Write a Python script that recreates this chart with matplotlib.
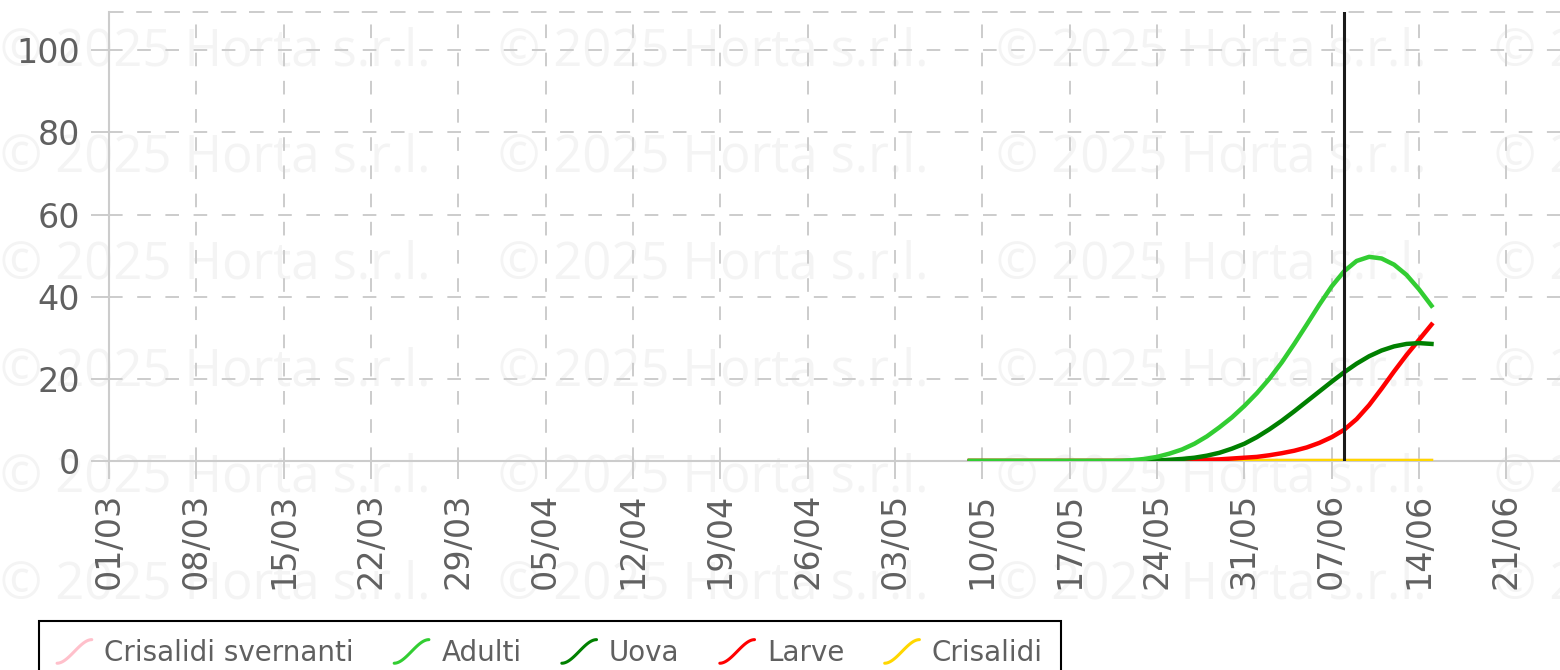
import numpy as np
import pandas as pd
import matplotlib
matplotlib.use("Agg")
import matplotlib.pyplot as plt
import matplotlib.dates as mdates
from matplotlib.legend_handler import HandlerBase
from matplotlib.lines import Line2D

# daily model output, 09/05 .. 15/06 (38 days)
days = pd.date_range("2025-05-09", "2025-06-15", freq="D")

crisalidi_svernanti = [0.0, 0.0, 0.0, 0.0, 0.0, 0.0, 0.0, 0.0, 0.0, 0.0,
                       0.0, 0.0, 0.0, 0.0, 0.0, 0.0, 0.0, 0.0, 0.0, 0.0,
                       0.0, 0.0, 0.0, 0.0, 0.0, 0.0, 0.0, 0.0, 0.0, 0.0,
                       0.0, 0.0, 0.0, 0.0, 0.0, 0.0, 0.0, 0.0]
adulti = [0.0, 0.0, 0.0, 0.0, 0.0, 0.0, 0.0, 0.0, 0.0, 0.0,
          0.0, 0.0, 0.0, 0.2, 0.5, 1.0, 1.8, 2.8, 4.2, 6.0,
          8.2, 10.6, 13.4, 16.5, 20.0, 24.0, 28.5, 33.2, 38.0, 42.5,
          46.2, 48.7, 49.7, 49.3, 47.8, 45.3, 41.8, 37.8]
uova = [0.0, 0.0, 0.0, 0.0, 0.0, 0.0, 0.0, 0.0, 0.0, 0.0,
        0.0, 0.0, 0.0, 0.0, 0.0, 0.1, 0.3, 0.5, 0.8, 1.3,
        2.0, 3.0, 4.2, 5.8, 7.7, 9.8, 12.1, 14.5, 16.9, 19.3,
        21.6, 23.7, 25.5, 26.9, 27.9, 28.5, 28.7, 28.5]
larve = [0.0, 0.0, 0.0, 0.0, 0.0, 0.0, 0.0, 0.0, 0.0, 0.0,
         0.0, 0.0, 0.0, 0.0, 0.0, 0.0, 0.0, 0.1, 0.2, 0.3,
         0.4, 0.6, 0.8, 1.0, 1.4, 1.9, 2.5, 3.3, 4.4, 5.8,
         7.6, 10.2, 13.6, 17.6, 21.8, 25.8, 29.5, 33.2]
crisalidi = [0.0, 0.0, 0.0, 0.0, 0.0, 0.0, 0.0, 0.0, 0.0, 0.0,
             0.0, 0.0, 0.0, 0.0, 0.0, 0.0, 0.0, 0.0, 0.0, 0.0,
             0.0, 0.0, 0.0, 0.0, 0.0, 0.0, 0.0, 0.0, 0.0, 0.0,
             0.0, 0.0, 0.0, 0.0, 0.0, 0.0, 0.0, 0.0]

labels = ["Crisalidi svernanti", "Adulti", "Uova", "Larve", "Crisalidi"]
colors = ["#ffc0cb", "#32cd32", "#008000", "#ff0000", "#ffd700"]
series = [crisalidi_svernanti, adulti, uova, larve, crisalidi]
draw_order = [0, 4, 3, 2, 1]  # adulti ends up on top

today = pd.Timestamp("2025-06-08")
x_start = pd.Timestamp("2025-03-01")
x_ticks = pd.date_range("2025-03-01", "2025-06-21", freq="7D")
y_ticks = [0, 20, 40, 60, 80, 100]

GRID = "#cccccc"
TXT = "#606060"
DASH = (0, (7, 7.5))


class CurveHandler(HandlerBase):
    # small s-shaped icon like the web chart legend
    def create_artists(self, legend, orig_handle, xdescent, ydescent,
                       width, height, fontsize, trans):
        t = np.linspace(0.0, 1.0, 30)
        s = t * t * (3 - 2 * t)
        cy = -ydescent + height / 2
        xs = -xdescent + width * t
        ys = cy + (s - 0.5) * 0.85 * fontsize
        ln = Line2D(xs, ys, color=orig_handle.get_color(), lw=2.2,
                    solid_capstyle="round", transform=trans)
        return [ln]


fig = plt.figure(figsize=(15.6, 6.7), dpi=100)

# watermark behind everything
for ry in [52, 158, 265, 372, 478, 585]:
    for cx in [0, 498, 996, 1494]:
        fig.text(cx / 1560, 1 - ry / 670, "© 2025 Horta s.r.l.",
                 fontsize=36.5, family="Open Sans", color="#f4f4f4",
                 ha="left", va="center", zorder=-10)

ax = fig.add_axes([109 / 1560, 1 - 461 / 670, 1 - 109 / 1560, 449 / 670])
ax.set_facecolor("none")

for k, i in enumerate(draw_order):
    ax.plot(days, series[i], color=colors[i], lw=3.2,
            solid_joinstyle="round", zorder=3 + k * 0.1)

ax.axvline(today, color="#1a1a1a", lw=2.2, zorder=5)

ax.set_xlim(x_start, x_start + pd.Timedelta(days=116.3))
ax.set_ylim(0, 109.3)
ax.set_xticks(x_ticks)
ax.xaxis.set_major_formatter(mdates.DateFormatter("%d/%m"))
ax.set_yticks(y_ticks)

ax.grid(True, color=GRID, lw=1.4, linestyle=DASH, zorder=0)
ax.set_axisbelow(True)

for side in ["left", "bottom"]:
    ax.spines[side].set_color(GRID)
    ax.spines[side].set_linewidth(1.5)
ax.spines["right"].set_visible(False)
ax.spines["top"].set_color(GRID)
ax.spines["top"].set_linewidth(1.4)
ax.spines["top"].set_linestyle(DASH)

ax.tick_params(axis="both", length=13, width=1.4, color=GRID,
               labelsize=24, labelcolor=TXT)
ax.tick_params(axis="x", labelrotation=90, pad=10)
ax.tick_params(axis="y", pad=8)

handles = [Line2D([], [], color=c) for c in colors]
leg = fig.legend(handles, labels, loc="upper left",
                 bbox_to_anchor=(39 / 1560, 1 - 621 / 670),
                 ncol=5, frameon=True, fancybox=False, shadow=False,
                 edgecolor="black", facecolor="white", framealpha=1,
                 fontsize=20, handlelength=1.25, handleheight=0.85,
                 handletextpad=0.45, columnspacing=1.45, borderpad=0.65,
                 borderaxespad=0, handler_map={Line2D: CurveHandler()})
leg.get_frame().set_linewidth(1.5)
for t in leg.get_texts():
    t.set_color(TXT)

fig.savefig("out.png", dpi=100, facecolor="white")
